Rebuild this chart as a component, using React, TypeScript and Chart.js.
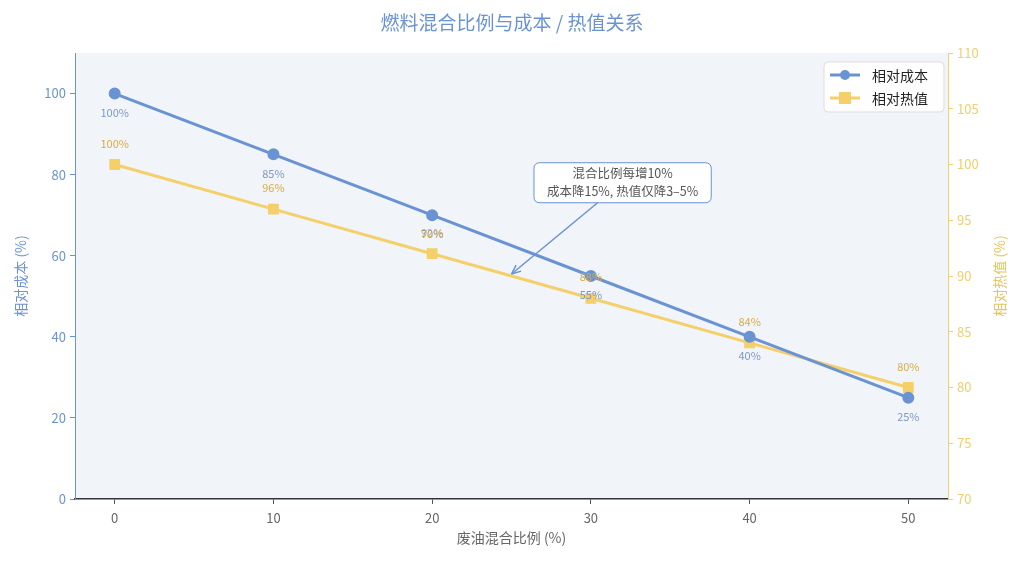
import { useEffect, useRef } from "react"
import { Chart, registerables } from "chart.js"

Chart.register(...registerables)

const FONT = "'Noto Sans CJK SC', 'Noto Sans', sans-serif"
const BLUE = "#6a93d3"
const YELLOW = "#f5d06a"

// data
const blendRatios = [0, 10, 20, 30, 40, 50]
const relativeCost = [100, 85, 70, 55, 40, 25]
const relativeHeat = [100, 96, 92, 88, 84, 80]
const xTicks = [0, 10, 20, 30, 40, 50]
const costTicks = [0, 20, 40, 60, 80, 100]
const heatTicks = [70, 75, 80, 85, 90, 95, 100, 105, 110]
const seriesNames = ["相对成本", "相对热值"]
const noteLines = ["混合比例每增10%", "成本降15%, 热值仅降3–5%"]
const notePos = { x: 32, y: 78 }
const arrowTarget = { x: 25, y: 55.5 }

function roundRect(ctx: CanvasRenderingContext2D, x: number, y: number, w: number, h: number, r: number) {
  ctx.beginPath()
  ctx.moveTo(x + r, y)
  ctx.lineTo(x + w - r, y)
  ctx.quadraticCurveTo(x + w, y, x + w, y + r)
  ctx.lineTo(x + w, y + h - r)
  ctx.quadraticCurveTo(x + w, y + h, x + w - r, y + h)
  ctx.lineTo(x + r, y + h)
  ctx.quadraticCurveTo(x, y + h, x, y + h - r)
  ctx.lineTo(x, y + r)
  ctx.quadraticCurveTo(x, y, x + r, y)
  ctx.closePath()
}

function vText(ctx: CanvasRenderingContext2D, text: string, x: number, y: number, color: string) {
  ctx.save()
  ctx.translate(x, y)
  ctx.rotate(-Math.PI / 2)
  ctx.fillStyle = color
  ctx.fillText(text, 0, 0)
  ctx.restore()
}

const extras = {
  id: "extras",
  beforeDraw(chart: any) {
    const { ctx, chartArea: a } = chart
    ctx.save()
    ctx.fillStyle = "#f1f4f8"
    ctx.fillRect(a.left, a.top, a.right - a.left, a.bottom - a.top)
    ctx.restore()
  },
  afterDatasetsDraw(chart: any) {
    const { ctx, scales, chartArea: a } = chart
    ctx.save()
    ctx.font = `11px ${FONT}`
    ctx.textAlign = "center"
    ctx.textBaseline = "middle"
    // point labels
    chart.getDatasetMeta(0).data.forEach((p: any, i: number) => {
      ctx.fillStyle = "#7f98c6"
      ctx.fillText(relativeCost[i] + "%", p.x, p.y + 19)
    })
    chart.getDatasetMeta(1).data.forEach((p: any, i: number) => {
      ctx.fillStyle = "#d8ad45"
      ctx.fillText(relativeHeat[i] + "%", p.x, p.y - 21)
    })

    // annotation
    const bx = scales.x.getPixelForValue(notePos.x)
    const by = scales.y.getPixelForValue(notePos.y)
    const tx = scales.x.getPixelForValue(arrowTarget.x)
    const ty = scales.y.getPixelForValue(arrowTarget.y)
    ctx.font = `12.5px ${FONT}`
    const w = Math.max(...noteLines.map((l) => ctx.measureText(l).width)) + 26
    const h = 40
    const sx = bx - 25
    const sy = by + h / 2
    ctx.strokeStyle = BLUE
    ctx.lineWidth = 1.5
    ctx.beginPath()
    ctx.moveTo(sx, sy)
    ctx.lineTo(tx, ty)
    ctx.stroke()
    const ang = Math.atan2(ty - sy, tx - sx)
    ctx.beginPath()
    ctx.moveTo(tx, ty)
    ctx.lineTo(tx - 10 * Math.cos(ang - 0.4), ty - 10 * Math.sin(ang - 0.4))
    ctx.moveTo(tx, ty)
    ctx.lineTo(tx - 10 * Math.cos(ang + 0.4), ty - 10 * Math.sin(ang + 0.4))
    ctx.stroke()

    roundRect(ctx, bx - w / 2, by - h / 2, w, h, 6)
    ctx.fillStyle = "#ffffff"
    ctx.fill()
    ctx.lineWidth = 1
    ctx.stroke()
    ctx.fillStyle = "#555555"
    ctx.fillText(noteLines[0], bx, by - 9)
    ctx.fillText(noteLines[1], bx, by + 9)

    // legend
    const lx = a.right - 124
    const ly = a.top + 9
    roundRect(ctx, lx, ly, 120, 50, 4)
    ctx.fillStyle = "rgba(255,255,255,0.9)"
    ctx.fill()
    ctx.strokeStyle = "#dddddd"
    ctx.lineWidth = 1
    ctx.stroke()
    ctx.font = `14px ${FONT}`
    ctx.textAlign = "left"
    ;[BLUE, YELLOW].forEach((c, i) => {
      const yy = ly + 13 + i * 23
      ctx.strokeStyle = c
      ctx.lineWidth = 3
      ctx.beginPath()
      ctx.moveTo(lx + 6, yy)
      ctx.lineTo(lx + 36, yy)
      ctx.stroke()
      ctx.fillStyle = c
      if (i === 0) {
        ctx.beginPath()
        ctx.arc(lx + 21, yy, 5, 0, Math.PI * 2)
        ctx.fill()
      } else {
        ctx.fillRect(lx + 15, yy - 6, 12, 12)
      }
      ctx.fillStyle = "#222222"
      ctx.fillText(seriesNames[i], lx + 48, yy + 1)
    })

    // titles
    ctx.textAlign = "center"
    ctx.font = `19px ${FONT}`
    ctx.fillStyle = BLUE
    ctx.fillText("燃料混合比例与成本 / 热值关系", chart.width / 2, 23)
    ctx.font = `14px ${FONT}`
    ctx.fillStyle = "#666666"
    ctx.fillText("废油混合比例 (%)", (a.left + a.right) / 2, 538)
    vText(ctx, "相对成本 (%)", 21, (a.top + a.bottom) / 2, BLUE)
    vText(ctx, "相对热值 (%)", 1000, (a.top + a.bottom) / 2, "#e8c45e")
    ctx.restore()
  },
}

export default function App() {
  const chartRef = useRef<HTMLCanvasElement>(null)
  const chartInstance = useRef<Chart | null>(null)

  useEffect(() => {
    document.body.style.margin = "0"
    if (!chartRef.current) return
    const ctx = chartRef.current.getContext("2d")
    if (!ctx) return
    if (chartInstance.current) chartInstance.current.destroy()

    chartInstance.current = new Chart(ctx, {
      type: "line",
      data: {
        datasets: [
          {
            label: seriesNames[0],
            data: blendRatios.map((x, i) => ({ x, y: relativeCost[i] })),
            yAxisID: "y",
            borderColor: BLUE,
            backgroundColor: BLUE,
            borderWidth: 3,
            pointRadius: 4.5,
            pointStyle: "circle",
          },
          {
            label: seriesNames[1],
            data: blendRatios.map((x, i) => ({ x, y: relativeHeat[i] })),
            yAxisID: "y1",
            borderColor: YELLOW,
            backgroundColor: YELLOW,
            borderWidth: 3,
            pointRadius: 5.5,
            pointStyle: "rect",
          },
        ],
      },
      options: {
        animation: false,
        responsive: true,
        maintainAspectRatio: false,
        layout: { padding: { top: 53, left: 0, right: 0, bottom: 0 } },
        plugins: {
          legend: { display: false },
          tooltip: { enabled: false },
          title: { display: false },
        },
        scales: {
          x: {
            type: "linear",
            min: -2.5,
            max: 52.5,
            afterBuildTicks: (s: any) => {
              s.ticks = xTicks.map((v) => ({ value: v }))
            },
            afterFit: (s: any) => {
              s.height = 64
            },
            grid: { drawOnChartArea: false, tickLength: 5, tickColor: "#555555" },
            border: { color: "#333333", width: 1.5 },
            ticks: { color: "#666666", font: { family: FONT, size: 13 }, padding: 6 },
          },
          y: {
            position: "left",
            min: 0,
            max: 110,
            afterBuildTicks: (s: any) => {
              s.ticks = costTicks.map((v) => ({ value: v }))
            },
            afterFit: (s: any) => {
              s.width = 75
            },
            grid: { drawOnChartArea: false, tickLength: 5, tickColor: BLUE },
            border: { color: BLUE, width: 1 },
            ticks: { color: BLUE, font: { family: FONT, size: 13 }, padding: 4 },
          },
          y1: {
            position: "right",
            min: 70,
            max: 110,
            afterBuildTicks: (s: any) => {
              s.ticks = heatTicks.map((v) => ({ value: v }))
            },
            afterFit: (s: any) => {
              s.width = 76
            },
            grid: { drawOnChartArea: false, tickLength: 5, tickColor: YELLOW },
            border: { color: YELLOW, width: 1 },
            ticks: { color: "#f0cf6e", font: { family: FONT, size: 13 }, padding: 4 },
          },
        },
      },
      plugins: [extras],
    })

    return () => {
      if (chartInstance.current) {
        chartInstance.current.destroy()
        chartInstance.current = null
      }
    }
  }, [])

  return (
    <div style={{ width: 1024, height: 563 }}>
      <canvas ref={chartRef} />
    </div>
  )
}
